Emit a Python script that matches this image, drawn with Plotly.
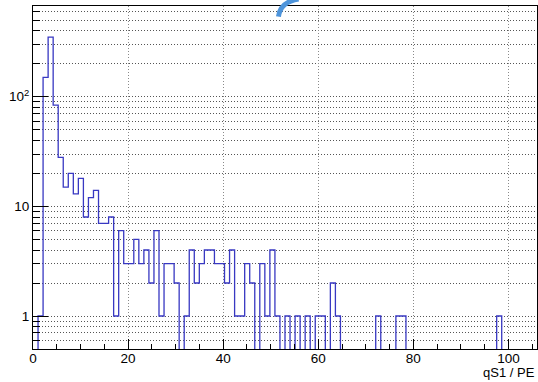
import numpy as np
import plotly.graph_objects as go

# Histogram definition (100 bins from 0 to 106)
bin_lo = 0.0
bin_hi = 106.0
n_bins = 100

# Counts per bin (bins 0..99)
counts = [0, 1, 150, 350, 84, 28, 15, 20, 13, 18,
          8, 12, 14, 7, 7, 8, 1, 6, 3, 3,
          5, 3, 4, 2, 6, 1, 3, 3, 2, 0,
          1, 4, 2, 3, 4, 4, 3, 3, 2, 4,
          1, 1, 3, 2, 0, 3, 1, 4, 1, 0,
          1, 0, 1, 0, 1, 0, 1, 1, 0, 2,
          1, 0, 0, 0, 0, 0, 0, 0, 1, 0,
          0, 0, 1, 1, 0, 0, 0, 0, 0, 0,
          0, 0, 0, 0, 0, 0, 0, 0, 0, 0,
          0, 0, 1, 0, 0, 0, 0, 0, 0, 0]

x_ticks = [0, 20, 40, 60, 80, 100]
y_ticks = [1, 10, 100]
y_ticktext = ["1", "10", "10<sup>2</sup>"]
x_title = "qS1 / PE"

edges = np.linspace(bin_lo, bin_hi, n_bins + 1)
floor_val = 0.1  # empty bins drawn below the visible range
yvals = [c if c > 0 else floor_val for c in counts]
ystep = yvals + [yvals[-1]]

minor_y = ([v / 10 for v in range(6, 10)] + list(range(2, 10)) +
           [v * 10 for v in range(2, 10)] + [v * 100 for v in range(2, 7)])

fig = go.Figure()
fig.add_trace(go.Scatter(
    x=edges, y=ystep, mode="lines", line_shape="hv",
    line=dict(color="#3838c2", width=1.3), showlegend=False,
    hoverinfo="skip"))

font = dict(family="Liberation Sans, Arial, sans-serif", size=13.5, color="black")
title_font = dict(family="Liberation Sans, Arial, sans-serif", size=13, color="black")

fig.update_layout(
    width=538, height=382,
    margin=dict(l=33, r=1, t=6, b=33),
    paper_bgcolor="white", plot_bgcolor="white",
    font=font,
    xaxis=dict(
        range=[bin_lo, bin_hi], tickmode="array", tickvals=x_ticks,
        ticks="inside", ticklen=10, tickwidth=1, tickcolor="black",
        ticklabelstandoff=-3,
        showline=True, linecolor="black", linewidth=1, mirror=True,
        showgrid=True, gridcolor="#8a8a8a", griddash="1px,2px", gridwidth=1,
        zeroline=False, tickfont=font,
        minor=dict(tick0=0, dtick=5, ticks="inside", ticklen=5,
                   tickcolor="black", showgrid=False),
    ),
    yaxis=dict(
        type="log", range=[np.log10(0.5), 2.828],
        tickmode="array", tickvals=y_ticks, ticktext=y_ticktext,
        ticks="inside", ticklen=15, tickwidth=1, tickcolor="black",
        showline=True, linecolor="black", linewidth=1, mirror=True,
        showgrid=True, gridcolor="#555555", griddash="1px,2px", gridwidth=1,
        zeroline=False, tickfont=font,
        minor=dict(tickmode="array", tickvals=minor_y, ticks="inside",
                   ticklen=7, tickcolor="black", showgrid=True,
                   gridcolor="#555555", griddash="1px,2px", gridwidth=1),
    ),
    annotations=[dict(
        text=x_title, xref="paper", yref="paper", x=1.0, y=0,
        xanchor="right", yanchor="bottom", yshift=-33, showarrow=False,
        font=title_font)],
    shapes=[dict(
        type="path", xref="paper", yref="paper",
        path="M 0.487 0.969 Q 0.491 1.012 0.527 1.02",
        line=dict(color="#4d94db", width=5))],
)

fig.write_html("out.html")
